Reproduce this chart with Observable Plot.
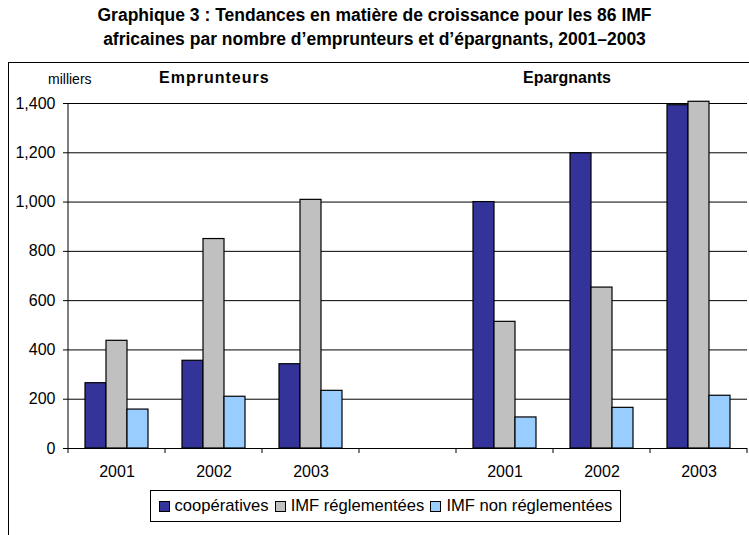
<!DOCTYPE html>
<html>
<head>
<meta charset="utf-8">
<script src="https://cdn.jsdelivr.net/npm/d3@7"></script>
<script src="https://cdn.jsdelivr.net/npm/@observablehq/plot@0.6"></script>
<style>
  html, body { margin: 0; padding: 0; background: #fff; }
  body { width: 749px; height: 535px; position: relative; overflow: hidden; font-family: "Liberation Sans", Arial, sans-serif; color: #000; }
  #title { position: absolute; left: 0; top: 3px; width: 749px; text-align: center; font-weight: bold; font-size: 17.5px; line-height: 24px; }
  #frame { position: absolute; left: 8px; top: 62px; width: 820px; height: 600px; border: 1px solid #000; }
  #chart { position: absolute; left: 0; top: 0; }
  .hdr { position: absolute; white-space: nowrap; }
  #unit { left: 39px; top: 8px; font-size: 14px; }
  #h1 { left: 150px; top: 6px; font-size: 16px; font-weight: bold; letter-spacing: 1px; }
  #h2 { left: 514px; top: 6px; font-size: 16px; font-weight: bold; }
  #legend { position: absolute; left: 141px; top: 427px; width: 469px; height: 30px; border: 1px solid #000; display: flex; align-items: center; justify-content: center; font-size: 16.6px; gap: 6px; }
  .item { display: flex; align-items: center; gap: 5px; white-space: nowrap; }
  .sw { width: 9px; height: 9px; border: 1px solid #000; display: inline-block; }
</style>
</head>
<body>
<div id="title">Graphique 3 : Tendances en matière de croissance pour les 86 IMF<br>africaines par nombre d’emprunteurs et d’épargnants, 2001–2003</div>
<div id="frame">
  <div id="chart"></div>
  <div class="hdr" id="unit">milliers</div>
  <div class="hdr" id="h1">Emprunteurs</div>
  <div class="hdr" id="h2">Epargnants</div>
  <div id="legend"></div>
</div>
<script>
// ---- data ----
const groups = ["Emprunteurs", "Epargnants"];
const years = ["2001", "2002", "2003"];
const series = ["coopératives", "IMF réglementées", "IMF non réglementées"];
const colors = ["#333399", "#C0C0C0", "#99CCFF"];
const yTicks = [0, 200, 400, 600, 800, 1000, 1200, 1400];

// Emprunteurs (milliers)
const empCooperatives = [265, 356, 342];
const empReglementees = [437, 850, 1009];
const empNonReglementees = [158, 210, 234];
// Epargnants (milliers)
const epaCooperatives = [1000, 1198, 1393];
const epaReglementees = [514, 653, 1407];
const epaNonReglementees = [126, 165, 214];

// ---- build table ----
const GAP = "gap";
const slots = [
  ...years.map(y => groups[0] + " " + y),
  GAP,
  ...years.map(y => groups[1] + " " + y)
];
const byGroup = {
  [groups[0]]: [empCooperatives, empReglementees, empNonReglementees],
  [groups[1]]: [epaCooperatives, epaReglementees, epaNonReglementees]
};
const rows = [];
for (const g of groups) {
  years.forEach((y, i) => {
    series.forEach((s, j) => {
      rows.push({ slot: g + " " + y, series: s, value: byGroup[g][j][i] });
    });
  });
}
series.forEach(s => rows.push({ slot: GAP, series: s, value: null }));

const plot = Plot.plot({
  width: 741,
  height: 425,
  marginLeft: 58,
  marginRight: 2,
  marginTop: 40,
  marginBottom: 40,
  style: { fontFamily: "Liberation Sans, Arial, sans-serif", fontSize: "16px", color: "#000", background: "transparent", overflow: "visible" },
  fx: { domain: slots, padding: 0, label: null, axis: "bottom", tickSize: 0, tickPadding: 17,
        tickFormat: d => d === GAP ? "" : d.split(" ")[1] },
  x: { domain: series, paddingInner: 0, paddingOuter: 0.745, axis: null },
  y: { domain: [0, 1400], ticks: yTicks, tickSize: 5, tickPadding: 8, label: null, tickFormat: d3.format(",") },
  color: { domain: series, range: colors },
  marks: [
    Plot.ruleY(yTicks.filter(d => d > 0), { stroke: "#000", strokeWidth: 1 }),
    Plot.barY(rows, { fx: "slot", x: "series", y: "value", fill: "series", stroke: "#000", strokeWidth: 1.2 }),
    Plot.ruleY([0], { stroke: "#000", strokeWidth: 1 })
  ]
});
document.getElementById("chart").appendChild(plot);

// axis line and category boundary ticks, placed with Plot's own scales
const fx = plot.scale("fx"), ys = plot.scale("y");
const svg = d3.select(plot);
const y0 = ys.apply(0), yTop = ys.apply(1400);
const edges = slots.map(s => fx.apply(s)).concat([fx.apply(slots[slots.length - 1]) + fx.bandwidth]);
const g = svg.append("g").attr("stroke", "#000").attr("stroke-width", 1);
g.append("line").attr("x1", edges[0]).attr("x2", edges[0]).attr("y1", yTop).attr("y2", y0 + 5);
edges.slice(1).forEach(x => g.append("line").attr("x1", x).attr("x2", x).attr("y1", y0).attr("y2", y0 + 5));

// legend
const legend = d3.select("#legend");
series.forEach((s, i) => {
  const it = legend.append("div").attr("class", "item");
  it.append("span").attr("class", "sw").style("background", colors[i]);
  it.append("span").text(s);
});
</script>
</body>
</html>
